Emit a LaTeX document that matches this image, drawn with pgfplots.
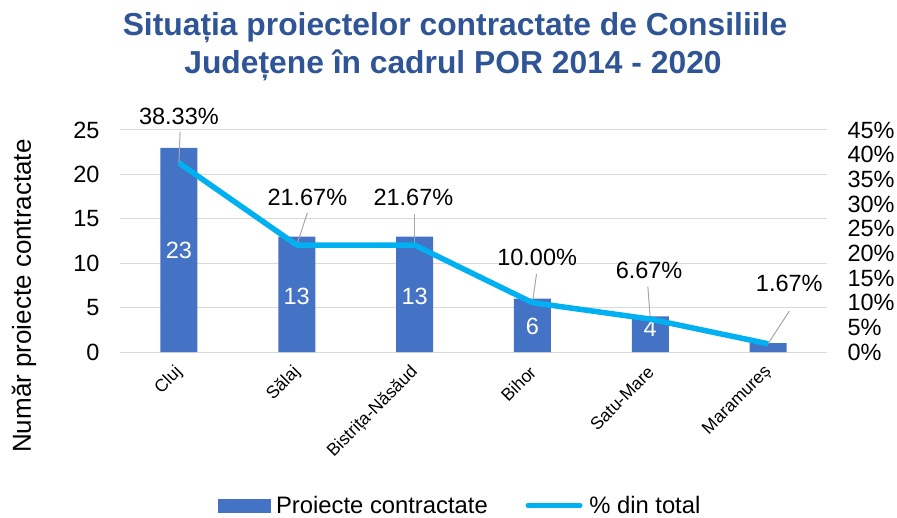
\documentclass[border=0pt]{standalone}
\usepackage{fontspec}
\setmainfont{Liberation Sans}
\usepackage{pgfplots}
\pgfplotsset{compat=1.18}
\definecolor{barblue}{HTML}{4472C4}
\definecolor{lineblue}{HTML}{00B0F0}
\definecolor{titleblue}{HTML}{2F5597}
\definecolor{gridgray}{HTML}{D9D9D9}
\definecolor{leadgray}{HTML}{A6A6A6}
\newcommand{\lbl}{\fontsize{23.5bp}{27bp}\selectfont}
\begin{document}
\begin{tikzpicture}
\path[use as bounding box] (0,0) rectangle (897bp,518bp);
\node[anchor=base, font=\fontsize{31.8bp}{38bp}\selectfont\bfseries, text=titleblue, inner sep=0pt] at (455bp,482bp)
  {Situația proiectelor contractate de Consiliile};
\node[anchor=base, font=\fontsize{31.8bp}{38bp}\selectfont\bfseries, text=titleblue, inner sep=0pt] at (453bp,444bp)
  {Județene în cadrul POR 2014 - 2020};
% left axis: bars
\begin{axis}[
  at={(120bp,166bp)}, anchor=south west,
  width=707bp, height=222bp, scale only axis,
  xmin=-0.5, xmax=5.5, ymin=0, ymax=25,
  ytick={0,5,...,25},
  xtick={0,1,2,3,4,5},
  xticklabels={Cluj,Sălaj,Bistrița-Năsăud,Bihor,Satu-Mare,Maramureș},
  ymajorgrids, grid style={color=gridgray, line width=1bp},
  axis line style={draw=none}, tick style={draw=none},
  /pgf/number format/assume math mode=true,
  yticklabel style={font=\lbl, anchor=east, xshift=-17bp},
  xticklabel style={font=\fontsize{17.5bp}{20bp}\selectfont, xshift=3bp, yshift=-15bp, anchor=east, rotate=45},
  ylabel={Număr proiecte contractate},
  ylabel style={font=\fontsize{26bp}{28bp}\selectfont, at={(axis description cs:-0.1358,0.252)}, anchor=center, rotate=0},
  clip=false,
]
\addplot[ybar, bar width=37bp, fill=barblue, draw=none] coordinates {
  (0,23) (1,13) (2,13) (3,6) (4,4) (5,1)
};
\addplot[draw=none, mark=none, point meta=explicit,
  nodes near coords={\pgfmathprintnumber{\pgfplotspointmeta}},
  every node near coord/.append style={anchor=center, font=\lbl, text=white, inner sep=0pt}]
  table[meta=v] {
x y v
0 11.4 23
1 6.3 13
2 6.3 13
3 2.9 6
4 2.6 4
};
\end{axis}
% right axis: percentage line
\begin{axis}[
  at={(120bp,166bp)}, anchor=south west,
  width=707bp, height=222bp, scale only axis,
  xmin=-0.5, xmax=5.5, ymin=0, ymax=45,
  ytick={0,5,...,45},
  hide x axis,
  axis y line*=right,
  axis line style={draw=none}, tick style={draw=none},
  /pgf/number format/assume math mode=true,
  yticklabel={\pgfmathprintnumber{\tick}\%},
  yticklabel style={font=\lbl, anchor=west, xshift=17bp},
  clip=false,
  legend columns=2,
  legend style={at={(axis description cs:0.481,-0.691)}, anchor=center, draw=none, fill=none,
    font=\fontsize{23.8bp}{26bp}\selectfont, inner sep=0pt,
    nodes={inner xsep=2bp, inner ysep=0pt},
    /tikz/every even column/.append style={column sep=33bp}},
]
\addlegendimage{legend image code/.code={\fill[barblue] (0bp,-6.5bp) rectangle (52bp,6.5bp); \path (56bp,0bp);}}
\addlegendentry{Proiecte contractate}
\addplot[leadgray, line width=1bp, mark=none, forget plot,
  quiver={u=\thisrow{u}, v=\thisrow{v}}] table {
x y u v
0 38.33 0.01 6.27
1 21.67 0.09 6.53
2 21.67 0.0 6.33
3 10.00 0.035 5.8
4 6.67 -0.02 6.53
5 1.67 0.18 6.63
};
\addplot[lineblue, line width=5.5bp, mark=none, line join=round,
  legend image code/.code={\draw[lineblue, line width=5bp, line cap=round] (2.5bp,0bp) -- (54.5bp,0bp); \path (0bp,0bp) (59bp,0bp);}]
  coordinates {(0,38.33) (1,21.67) (2,21.67) (3,10.00) (4,6.67) (5,1.67)};
\addlegendentry{\% din total}
\addplot[draw=none, mark=none, forget plot, point meta=explicit,
  nodes near coords={\pgfmathprintnumber[fixed,fixed zerofill,precision=2]{\pgfplotspointmeta}\%},
  every node near coord/.append style={anchor=center, font=\lbl, text=black, inner sep=0pt}]
  table[meta=v] {
x y v
0.0 47.8 38.33
1.09 31.4 21.67
1.99 31.4 21.67
3.04 19.1 10.00
3.99 16.6 6.67
5.18 14.0 1.67
};
\end{axis}
\end{tikzpicture}
\end{document}
